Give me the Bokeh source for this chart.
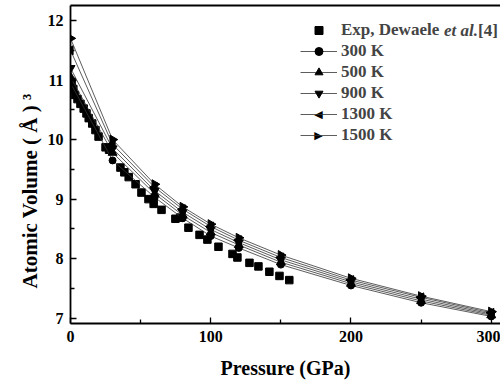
import math
from bokeh.plotting import figure
from bokeh.models import (Range1d, LinearAxis, FixedTicker, Legend, LegendItem, Label, Title)
from bokeh.embed import file_html
from bokeh.resources import INLINE

# ---- data ----
pressure_calc = [0, 30, 60, 80, 100, 120, 150, 200, 250, 300]
v_300K = [10.95, 9.65, 9.03, 8.68, 8.38, 8.18, 7.90, 7.55, 7.26, 7.03]
v_500K = [11.05, 9.78, 9.09, 8.73, 8.44, 8.23, 7.94, 7.58, 7.29, 7.05]
v_900K = [11.20, 9.85, 9.14, 8.78, 8.49, 8.27, 7.98, 7.61, 7.32, 7.07]
v_1300K = [11.50, 9.92, 9.20, 8.83, 8.54, 8.31, 8.02, 7.64, 7.35, 7.09]
v_1500K = [11.70, 10.00, 9.25, 8.87, 8.58, 8.35, 8.06, 7.67, 7.37, 7.11]

p_exp = [0.8, 2.0, 3.2, 5.0, 7.1, 9.4, 11.4, 13.0, 15.5, 17.8, 20.0, 25.0, 27.5,
         35.6, 38.4, 41.5, 46.4, 50.6, 55.6, 59.3, 64.9, 74.8, 78.4, 84.1, 92.0,
         97.6, 105.5, 115.5, 119.0, 127.6, 134.0, 141.8, 149.0, 156.0]
v_exp = [10.97, 10.85, 10.75, 10.68, 10.60, 10.52, 10.44, 10.36, 10.27, 10.16, 10.05, 9.87, 9.83,
         9.53, 9.45, 9.37, 9.25, 9.11, 9.00, 8.92, 8.82, 8.67, 8.69, 8.52, 8.40,
         8.32, 8.20, 8.08, 8.02, 7.93, 7.87, 7.78, 7.71, 7.64]

x_ticks = [0, 100, 200, 300]
y_ticks = [7, 8, 9, 10, 11, 12]

FONT = "Liberation Serif"

p = figure(width=500, height=383, x_range=Range1d(0, 306.6), y_range=Range1d(6.911, 12.252),
           output_backend="svg", toolbar_location=None,
           min_border_left=70, min_border_right=0, min_border_top=5, min_border_bottom=60)
p.outline_line_color = None
p.xgrid.visible = False
p.ygrid.visible = False
p.background_fill_color = "white"
p.border_fill_color = "white"

for ax in (p.xaxis[0], p.yaxis[0]):
    ax.axis_line_width = 1.8
    ax.axis_line_color = "black"
    ax.major_tick_in = 6
    ax.major_tick_out = 0
    ax.minor_tick_in = 4
    ax.minor_tick_out = 0
    ax.major_tick_line_width = 1.3
    ax.minor_tick_line_width = 1.3
    ax.major_label_text_font = FONT
    ax.major_label_text_font_style = "bold"
    ax.major_label_text_font_size = "16px"
    ax.major_label_text_color = "black"
    ax.major_label_standoff = 7

p.xaxis[0].ticker = FixedTicker(ticks=x_ticks, minor_ticks=[50, 150, 250])
p.yaxis[0].ticker = FixedTicker(ticks=y_ticks, minor_ticks=[7.5, 8.5, 9.5, 10.5, 11.5])

p.xaxis[0].axis_label = "Pressure (GPa)"
p.xaxis[0].axis_label_text_font = FONT
p.xaxis[0].axis_label_text_font_style = "bold"
p.xaxis[0].axis_label_text_font_size = "20px"
p.xaxis[0].axis_label_text_color = "black"
p.xaxis[0].axis_label_standoff = 12
p.yaxis[0].axis_label = None

top = LinearAxis(ticker=FixedTicker(ticks=[]), major_label_text_font_size="0px",
                 axis_line_width=1.8, axis_line_color="black",
                 major_tick_line_color=None, minor_tick_line_color=None,
                 major_label_standoff=0)
p.add_layout(top, "above")

ytitle = Title(text="Atomic Volume ( Å ) ³", align="left", offset=35, vertical_align="middle",
               text_font=FONT, text_font_style="bold", text_font_size="21px",
               text_color="black", standoff=4)
p.add_layout(ytitle, "left")

line_kw = dict(line_color="#333333", line_width=0.8)
series = [
    ("300 K", v_300K, "circle", 0.0, 7),
    ("500 K", v_500K, "triangle", 0.0, 9),
    ("900 K", v_900K, "inverted_triangle", 0.0, 9),
    ("1300 K", v_1300K, "triangle", math.pi / 2, 9),
    ("1500 K", v_1500K, "triangle", -math.pi / 2, 9),
]

items = []
r_exp = p.scatter(p_exp, v_exp, marker="square", size=7.5, color="black")
items.append(LegendItem(label="Exp, Dewaele", renderers=[r_exp]))
for name, vals, marker, ang, sz in series:
    rl = p.line(pressure_calc, vals, **line_kw)
    rs = p.scatter(pressure_calc, vals, marker=marker, angle=ang, size=sz, color="black")
    if ang == 0.0:
        items.append(LegendItem(label=name, renderers=[rl, rs]))
    else:
        items.append(LegendItem(label=name, renderers=[rl]))

legend = Legend(items=items, location=(230, 178), padding=0, margin=0, spacing=1,
                glyph_width=37, glyph_height=20, label_height=20, label_standoff=4,
                label_text_font=FONT, label_text_font_style="bold", label_text_font_size="17px",
                border_line_color=None, background_fill_alpha=0)
p.add_layout(legend, "center")

# rotated-triangle legend symbols (legend glyphs ignore marker angle)
for sym, yy in (("\u25C0", 209), ("\u25B6", 188)):
    p.add_layout(Label(x=248, y=yy, x_units="screen", y_units="screen", text=sym,
                       text_font="DejaVu Sans", text_font_size="11px", text_color="black",
                       text_baseline="middle", text_align="center"))

p.add_layout(Label(x=373.5, y=293, x_units="screen", y_units="screen", text="et al.",
                   text_font=FONT, text_font_style="bold italic", text_font_size="17px",
                   text_baseline="middle", text_align="left"))
p.add_layout(Label(x=407.5, y=293, x_units="screen", y_units="screen", text="[4]",
                   text_font=FONT, text_font_style="bold", text_font_size="17px",
                   text_baseline="middle", text_align="left"))

open("out.html", "w").write(file_html(p, INLINE))
